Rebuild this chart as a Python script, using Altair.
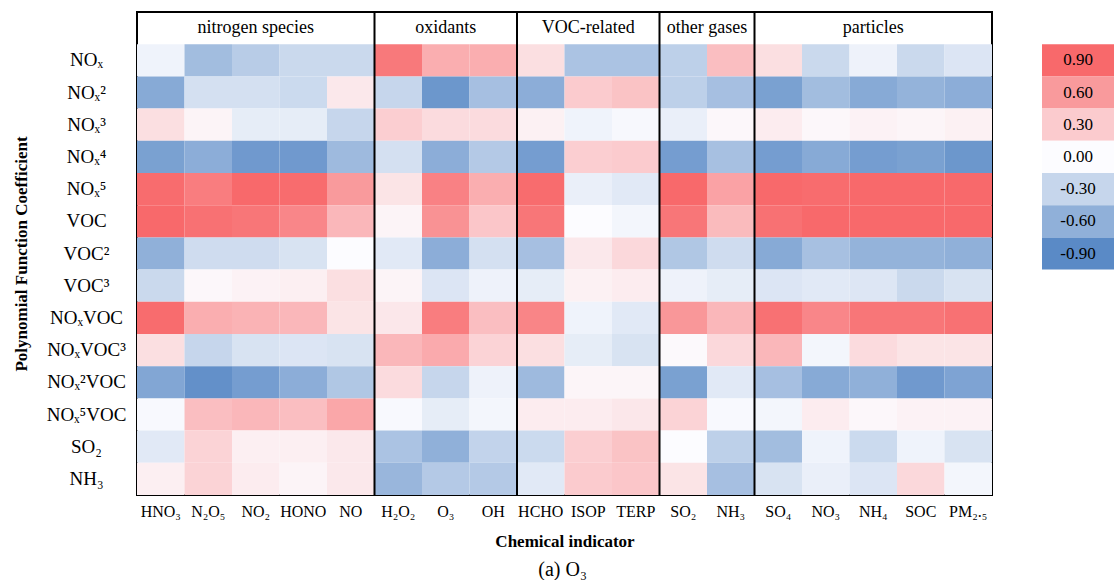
import altair as alt
import pandas as pd

# ---- categories ----
indicators = ["HNO₃", "N₂O₅", "NO₂", "HONO", "NO", "H₂O₂", "O₃", "OH",
              "HCHO", "ISOP", "TERP", "SO₂", "NH₃", "SO₄", "NO₃", "NH₄", "SOC", "PM₂.₅"]
coefficients = ["NOₓ", "NOₓ²", "NOₓ³", "NOₓ⁴", "NOₓ⁵", "VOC", "VOC²", "VOC³",
                "NOₓVOC", "NOₓVOC³", "NOₓ²VOC", "NOₓ⁵VOC", "SO₂", "NH₃"]
header_row = " "

groups = ["nitrogen species", "oxidants", "VOC-related", "other gases", "particles"]
group_first = ["HNO₃", "H₂O₂", "HCHO", "SO₂", "SO₄"]
group_mid = ["NO₂", "O₃", "ISOP", "SO₂", "NH₄"]
group_mid_on_edge = [False, False, False, True, False]

legend_labels = ["0.90", "0.60", "0.30", "0.00", "-0.30", "-0.60", "-0.90"]
legend_values = [0.90, 0.60, 0.30, 0.00, -0.30, -0.60, -0.90]

# ---- values (row = coefficient, columns follow `indicators`) ----
r_NOx     = [-0.07, -0.50, -0.38, -0.28, -0.28, 0.80, 0.48, 0.48, 0.18, -0.45, -0.45, -0.35, 0.38, 0.18, -0.28, -0.08, -0.28, -0.18]
r_NOx2    = [-0.65, -0.22, -0.22, -0.27, 0.12, -0.30, -0.80, -0.48, -0.62, 0.30, 0.35, -0.35, -0.48, -0.72, -0.50, -0.65, -0.58, -0.62]
r_NOx3    = [0.18, 0.05, -0.12, -0.12, -0.30, 0.28, 0.20, 0.20, 0.07, -0.07, -0.03, -0.10, 0.03, 0.10, 0.03, 0.06, 0.04, 0.07]
r_NOx4    = [-0.72, -0.62, -0.78, -0.78, -0.52, -0.22, -0.62, -0.40, -0.75, 0.28, 0.30, -0.75, -0.47, -0.75, -0.65, -0.75, -0.72, -0.80]
r_NOx5    = [0.88, 0.78, 0.90, 0.88, 0.60, 0.15, 0.75, 0.48, 0.88, -0.10, -0.15, 0.92, 0.55, 0.90, 0.88, 0.93, 0.93, 0.95]
r_VOC     = [0.95, 0.85, 0.82, 0.72, 0.42, 0.05, 0.65, 0.33, 0.82, 0.00, -0.05, 0.82, 0.40, 0.85, 0.92, 0.93, 0.93, 0.97]
r_VOC2    = [-0.60, -0.25, -0.25, -0.20, 0.00, -0.15, -0.62, -0.22, -0.48, 0.12, 0.22, -0.42, -0.25, -0.65, -0.47, -0.58, -0.58, -0.60]
r_VOC3    = [-0.28, 0.03, 0.06, 0.08, 0.18, 0.05, -0.18, -0.08, -0.12, 0.07, 0.10, -0.08, -0.12, -0.18, -0.15, -0.17, -0.28, -0.20]
r_NOxVOC  = [0.88, 0.48, 0.45, 0.42, 0.15, 0.13, 0.78, 0.38, 0.73, -0.07, -0.15, 0.62, 0.42, 0.85, 0.72, 0.82, 0.82, 0.85]
r_NOxVOC3 = [0.18, -0.30, -0.20, -0.18, -0.20, 0.42, 0.50, 0.25, 0.18, -0.12, -0.20, 0.02, 0.22, 0.42, -0.05, 0.20, 0.15, 0.15]
r_NOx2VOC = [-0.68, -0.85, -0.75, -0.62, -0.42, 0.20, -0.30, -0.08, -0.52, 0.04, 0.04, -0.72, -0.15, -0.48, -0.65, -0.60, -0.78, -0.70]
r_NOx5VOC = [-0.02, 0.38, 0.42, 0.38, 0.52, -0.02, -0.12, -0.05, 0.10, 0.10, 0.13, 0.25, -0.02, -0.05, 0.10, 0.03, 0.06, 0.06]
r_SO2     = [-0.15, 0.25, 0.08, 0.08, 0.12, -0.45, -0.60, -0.32, -0.27, 0.28, 0.35, 0.00, -0.35, -0.50, -0.07, -0.27, -0.07, -0.20]
r_NH3     = [0.08, 0.25, 0.10, 0.05, 0.12, -0.55, -0.40, -0.40, -0.15, 0.30, 0.33, 0.15, -0.48, -0.20, -0.10, -0.18, 0.22, -0.05]

rows = [r_NOx, r_NOx2, r_NOx3, r_NOx4, r_NOx5, r_VOC, r_VOC2, r_VOC3,
        r_NOxVOC, r_NOxVOC3, r_NOx2VOC, r_NOx5VOC, r_SO2, r_NH3]

records = []
for coef, vals in zip(coefficients, rows):
    for ind, v in zip(indicators, vals):
        records.append({"coef": coef, "ind": ind, "value": v})
cells = pd.DataFrame(records)

FONT = "Liberation Serif"
color_scale = alt.Scale(domain=[-0.9, 0, 0.9], range=["#5A8AC6", "#FCFCFF", "#F8696B"],
                        interpolate="rgb", clamp=True)

x_enc_scale = alt.Scale(domain=indicators, paddingInner=0, paddingOuter=0)
y_enc_scale = alt.Scale(domain=[header_row] + coefficients, paddingInner=0, paddingOuter=0)

heat = alt.Chart(cells).mark_rect().encode(
    x=alt.X("ind:N", scale=x_enc_scale, sort=indicators,
            axis=alt.Axis(title="Chemical indicator", labelAngle=0, ticks=False, tickSize=0,
                          domain=False, labelFontSize=16, labelPadding=8,
                          titleFontSize=17, titleFontWeight="bold", titlePadding=14,
                          labelColor="black", titleColor="black")),
    y=alt.Y("coef:N", scale=y_enc_scale, sort=[header_row] + coefficients,
            axis=alt.Axis(title="Polynomial Function Coefficient", ticks=False, tickSize=0,
                          domain=False, labelFontSize=19, labelAlign="center", labelPadding=51,
                          titleFontSize=17, titleFontWeight="bold", titlePadding=16,
                          labelColor="black", titleColor="black")),
    color=alt.Color("value:Q", scale=color_scale, legend=None),
)

sep_df = pd.DataFrame({"first": group_first[1:]})
seps = alt.Chart(sep_df).mark_rule(color="black", strokeWidth=2).encode(
    x=alt.X("first:N", bandPosition=0)
)

gdf = pd.DataFrame({"group": groups, "mid": group_mid, "edge": group_mid_on_edge, "row": [header_row] * 5})
glab_center = alt.Chart(gdf[~gdf["edge"]]).mark_text(fontSize=18, font=FONT, color="black").encode(
    x=alt.X("mid:N", bandPosition=0.5), y=alt.Y("row:N"), text="group:N"
)
glab_edge = alt.Chart(gdf[gdf["edge"]]).mark_text(fontSize=18, font=FONT, color="black").encode(
    x=alt.X("mid:N", bandPosition=1), y=alt.Y("row:N"), text="group:N"
)

main = alt.layer(heat, seps, glab_center, glab_edge).properties(
    width=855, height=483,
    view=alt.ViewBackground(stroke="black", strokeWidth=2),
)

ldf = pd.DataFrame({"lab": legend_labels, "value": legend_values})
legend_dom = ["_h"] + legend_labels + ["_%d" % i for i in range(7)]
lrect = alt.Chart(ldf).mark_rect().encode(
    y=alt.Y("lab:N", scale=alt.Scale(domain=legend_dom, paddingInner=0, paddingOuter=0), axis=None),
    color=alt.Color("value:Q", scale=color_scale, legend=None),
)
ltext = alt.Chart(ldf).mark_text(fontSize=17, font=FONT, color="black").encode(
    y=alt.Y("lab:N", scale=alt.Scale(domain=legend_dom, paddingInner=0, paddingOuter=0), axis=None),
    text="lab:N",
)
legend_chart = alt.layer(lrect, ltext).properties(
    width=72, height=483,
    view=alt.ViewBackground(strokeWidth=0),
)

chart = alt.hconcat(main, legend_chart, spacing=49).properties(
    title=alt.TitleParams("(a) O₃", orient="bottom", anchor="middle", fontSize=20, font=FONT,
                          fontWeight="normal", color="black", offset=10),
    padding={"left": 11, "top": 10, "right": 0, "bottom": 0},
).configure(font=FONT).configure_view(strokeWidth=0).configure_axis(
    labelFont=FONT, titleFont=FONT
).configure_title(font=FONT)

chart.save("out.html", embed_options={"renderer": "svg", "actions": False})
